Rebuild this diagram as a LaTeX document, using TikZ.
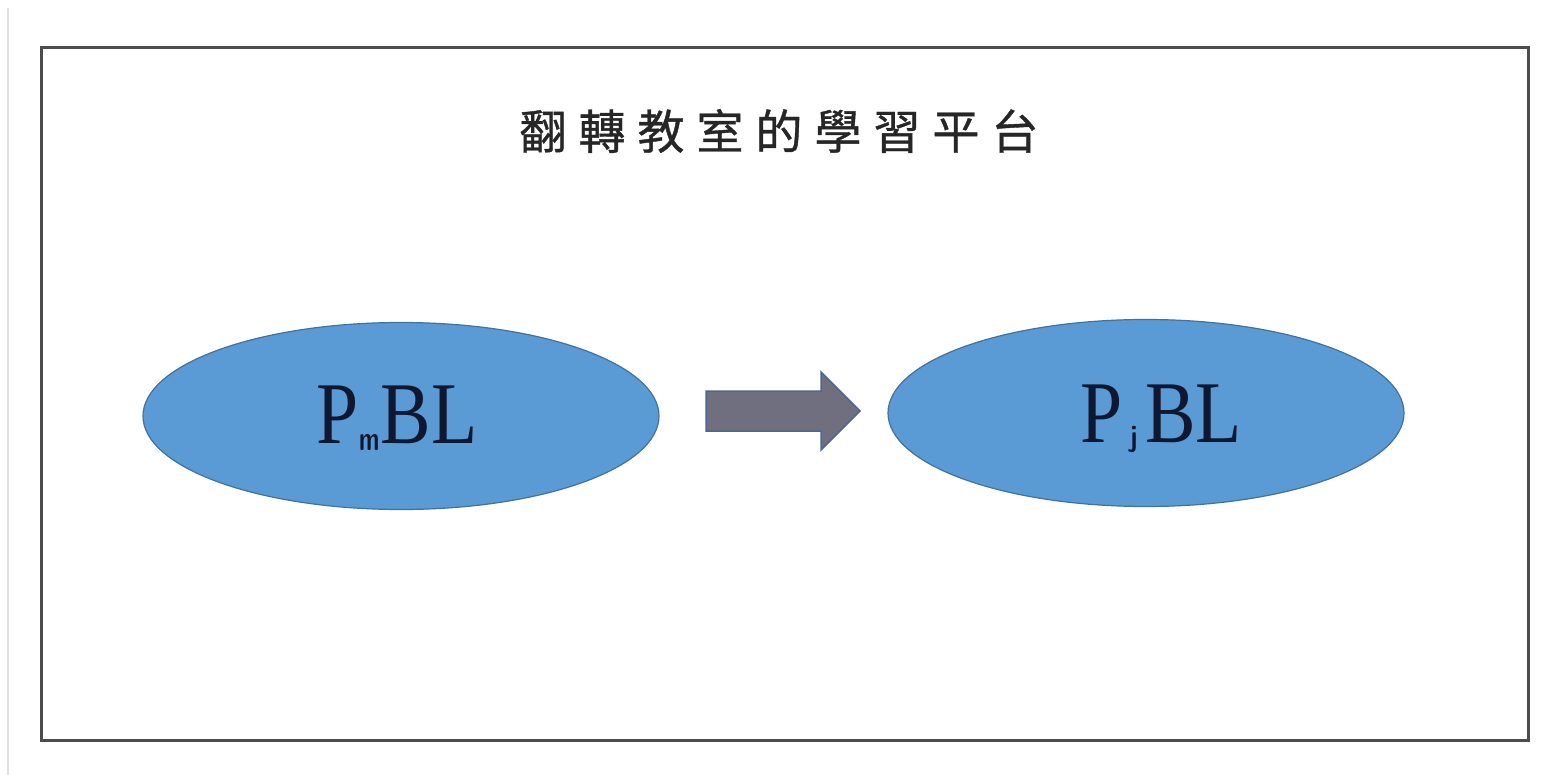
\documentclass[tikz,border=0pt]{standalone}
\usepackage{fontspec}
\setmainfont{Liberation Serif}
\newfontfamily\cjk[FakeBold=0.8]{Noto Sans CJK TC}
\usetikzlibrary{shapes.geometric}
\definecolor{ellfill}{HTML}{5B9BD5}
\definecolor{elledge}{HTML}{41719C}
\definecolor{arrfill}{HTML}{6F6F7F}
\definecolor{arredge}{HTML}{50688F}
\definecolor{txt}{HTML}{0F1830}
\tikzset{
  oval/.style={ellipse, fill=ellfill, draw=elledge, line width=1.2pt,
    minimum width=516pt, minimum height=187pt, inner sep=0pt},
  label text/.style={font=\fontsize{88}{88}\selectfont, text=txt, anchor=base, inner sep=0pt},
  frame/.style={draw=black!70, line width=3pt},
  blockarrow/.style={fill=arrfill, draw=arredge, line width=1.5pt, line join=miter},
}
\newcommand{\gapc}{\hspace{12pt}}
\begin{document}
\begin{tikzpicture}[x=1pt,y=-1pt]
\useasboundingbox (0,0) rectangle (1541,775);
\fill[white] (0,0) rectangle (1541,775);
\draw[black!12, line width=1.5pt] (8,8) -- (8,775);
\draw[frame] (41,48) rectangle (1528,740);
\node[font=\cjk\fontsize{47}{47}\selectfont, text=black!85, inner sep=0pt] (title) at (779,131) {翻\gapc 轉\gapc 教\gapc 室\gapc 的\gapc 學\gapc 習\gapc 平\gapc 台};
\node[oval] (pm) at (401,416) {};
\node[oval] (pj) at (1146,413) {};
\node[label text] (pmt) at (397,443) {\scalebox{0.86}[1]{P\hspace{1pt}{\sffamily\bfseries\fontsize{34}{34}\selectfont\raisebox{-7pt}{\scalebox{0.8}[1]{m}}}\hspace{1pt}BL}};
\node[label text] (pjt) at (1161,442) {\scalebox{0.86}[1]{P\hspace{9pt}{\sffamily\bfseries\fontsize{30}{30}\selectfont\raisebox{-4pt}{j}}\hspace{9pt}BL}};
\draw[blockarrow] (706,391) -- (821,391) -- (821,372) -- (860,411) -- (821,450) -- (821,431) -- (706,431) -- cycle;
\end{tikzpicture}
\end{document}
